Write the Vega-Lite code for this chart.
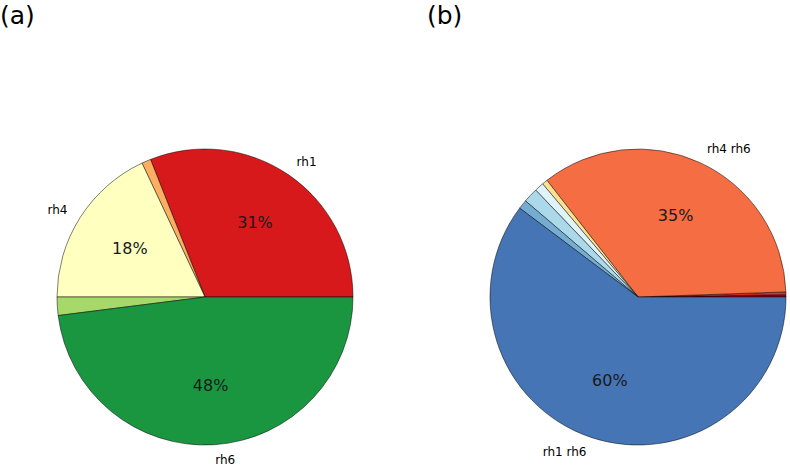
{
  "$schema": "https://vega.github.io/schema/vega-lite/v6.json",
  "padding": {"top": 4, "left": 0, "right": 0, "bottom": 0},
  "spacing": 76,
  "bounds": "flush",
  "background": "white",
  "config": {"view": {"stroke": null}, "font": "DejaVu Sans"},
  "datasets": {
    "slices": [
      {"pie": "a", "idx": 1, "key": "a1", "label": "rh1", "value": 0.31},
      {"pie": "a", "idx": 2, "key": "a2", "label": "", "value": 0.01},
      {"pie": "a", "idx": 3, "key": "a3", "label": "rh4", "value": 0.18},
      {"pie": "a", "idx": 4, "key": "a4", "label": "", "value": 0.02},
      {"pie": "a", "idx": 5, "key": "a5", "label": "rh6", "value": 0.48},
      {"pie": "b", "idx": 1, "key": "b1", "label": "", "value": 0.0025},
      {"pie": "b", "idx": 2, "key": "b2", "label": "", "value": 0.003},
      {"pie": "b", "idx": 3, "key": "b3", "label": "rh4 rh6", "value": 0.35},
      {"pie": "b", "idx": 4, "key": "b4", "label": "", "value": 0.006},
      {"pie": "b", "idx": 5, "key": "b5", "label": "", "value": 0.010},
      {"pie": "b", "idx": 6, "key": "b6", "label": "", "value": 0.016},
      {"pie": "b", "idx": 7, "key": "b7", "label": "", "value": 0.010},
      {"pie": "b", "idx": 8, "key": "b8", "label": "rh1 rh6", "value": 0.6025}
    ]
  },
  "hconcat": [
    {
      "width": 410,
      "height": 340,
      "title": {"text": "(a)", "anchor": "start", "frame": "group", "fontSize": 25, "fontWeight": "normal", "font": "DejaVu Sans", "color": "#000", "offset": 98},
      "data": {"name": "slices"},
      "transform": [{"filter": "datum.pie == 'a'"}],
      "encoding": {
        "theta": {"field": "value", "type": "quantitative", "stack": true, "scale": {"domain": [0, 1], "range": [1.5707963, -4.712389]}},
        "order": {"field": "idx", "type": "quantitative"}
      },
      "layer": [
        {
          "mark": {"type": "arc", "radius": 148, "stroke": "#000", "strokeWidth": 0.5},
          "encoding": {
            "color": {"field": "key", "type": "nominal", "legend": null, "scale": {"domain": ["a1","a2","a3","a4","a5","b1","b2","b3","b4","b5","b6","b7","b8"], "range": ["#d7191c","#fdae61","#ffffbf","#a6d96a","#1a9641","#a50026","#d73027","#f46d43","#fee090","#e0f3f8","#abd9e9","#74add1","#4575b4"]}}
          }
        },
        {
          "mark": {"type": "text", "radius": 163, "align": "left", "baseline": "middle", "fontSize": 12, "color": "#000"},
          "encoding": {"text": {"condition": {"test": "datum.label == 'rh1' || datum.label == 'rh6' || datum.label == 'rh4 rh6'", "field": "label"}, "value": ""}}
        },
        {
          "mark": {"type": "text", "radius": 163, "align": "right", "baseline": "middle", "fontSize": 12, "color": "#000"},
          "encoding": {"text": {"condition": {"test": "datum.label == 'rh4' || datum.label == 'rh1 rh6'", "field": "label"}, "value": ""}}
        },
        {
          "mark": {"type": "text", "radius": 89, "align": "center", "baseline": "middle", "fontSize": 16, "color": "#1a1a1a"},
          "encoding": {"text": {"condition": {"test": "datum.value >= 0.1", "field": "value", "type": "quantitative", "format": ".0%"}, "value": ""}}
        }
      ]
    },
    {
      "width": 304,
      "height": 340,
      "title": {"text": "(b)", "anchor": "start", "frame": "group", "dx": -59, "fontSize": 25, "fontWeight": "normal", "font": "DejaVu Sans", "color": "#000", "offset": 98},
      "data": {"name": "slices"},
      "transform": [{"filter": "datum.pie == 'b'"}],
      "encoding": {
        "theta": {"field": "value", "type": "quantitative", "stack": true, "scale": {"domain": [0, 1], "range": [1.5707963, -4.712389]}},
        "order": {"field": "idx", "type": "quantitative"}
      },
      "layer": [
        {
          "mark": {"type": "arc", "radius": 148, "stroke": "#000", "strokeWidth": 0.5},
          "encoding": {
            "color": {"field": "key", "type": "nominal", "legend": null, "scale": {"domain": ["a1","a2","a3","a4","a5","b1","b2","b3","b4","b5","b6","b7","b8"], "range": ["#d7191c","#fdae61","#ffffbf","#a6d96a","#1a9641","#a50026","#d73027","#f46d43","#fee090","#e0f3f8","#abd9e9","#74add1","#4575b4"]}}
          }
        },
        {
          "mark": {"type": "text", "radius": 163, "align": "left", "baseline": "middle", "fontSize": 12, "color": "#000"},
          "encoding": {"text": {"condition": {"test": "datum.label == 'rh1' || datum.label == 'rh6' || datum.label == 'rh4 rh6'", "field": "label"}, "value": ""}}
        },
        {
          "mark": {"type": "text", "radius": 163, "align": "right", "baseline": "middle", "fontSize": 12, "color": "#000"},
          "encoding": {"text": {"condition": {"test": "datum.label == 'rh4' || datum.label == 'rh1 rh6'", "field": "label"}, "value": ""}}
        },
        {
          "mark": {"type": "text", "radius": 89, "align": "center", "baseline": "middle", "fontSize": 16, "color": "#1a1a1a"},
          "encoding": {"text": {"condition": {"test": "datum.value >= 0.1", "field": "value", "type": "quantitative", "format": ".0%"}, "value": ""}}
        }
      ]
    }
  ]
}
